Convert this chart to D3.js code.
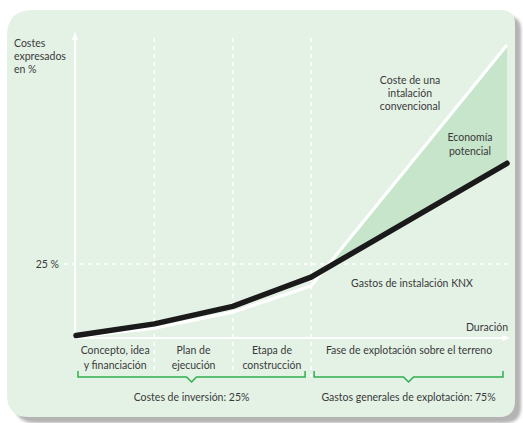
<!DOCTYPE html>
<html>
<head>
<meta charset="utf-8">
<script src="https://cdn.jsdelivr.net/npm/d3@7"></script>
<style>
  html, body { margin: 0; padding: 0; background: #ffffff; }
  svg { display: block; }
  text { font-family: Lato, "Open Sans", sans-serif; fill: #3a3a3a; }
</style>
</head>
<body>
<svg id="chart" width="523" height="423"></svg>
<script>
// Phase boundaries along the time axis (in phase units) and the cost at each boundary (%)
const phaseBounds      = [0, 1, 2, 3, 5.5];
const knxCost          = [0.5, 4.5, 10.5, 20.5, 59.5];
const conventionalCost = [0, 3, 8.5, 17.5, 100];

const yTicks = [25];
const phaseLabels = [
  { lines: ["Concepto, idea", "y financiación"], from: 0, to: 1 },
  { lines: ["Plan de", "ejecución"], from: 1, to: 2 },
  { lines: ["Etapa de", "construcción"], from: 2, to: 3 },
  { lines: ["Fase de explotación sobre el terreno"], from: 3, to: 5.5 }
];
const costGroups = [
  { label: "Costes de inversión: 25%", from: 0, to: 3 },
  { label: "Gastos generales de explotación: 75%", from: 3, to: 5.5 }
];

const svg = d3.select("#chart");

const x = d3.scaleLinear().domain([0, 5.5]).range([76, 507]);
const y = d3.scaleLinear().domain([0, 100]).range([337, 45]);

const bg = "#e4f2e6";
const savingFill = "#c6e5cb";
const green = "#2fae4e";

// Panel with its drop shadow; corners of different radii
function panelPath(x0, y0, x1, y1, rtl, rtr, rbr, rbl) {
  return `M${x0 + rtl},${y0} L${x1 - rtr},${y0} Q${x1},${y0} ${x1},${y0 + rtr}
          L${x1},${y1 - rbr} Q${x1},${y1} ${x1 - rbr},${y1}
          L${x0 + rbl},${y1} Q${x0},${y1} ${x0},${y1 - rbl}
          L${x0},${y0 + rtl} Q${x0},${y0} ${x0 + rtl},${y0} Z`;
}
const defs = svg.append("defs");
defs.append("filter").attr("id", "soft").attr("x", "-5%").attr("y", "-5%").attr("width", "110%").attr("height", "110%")
  .append("feGaussianBlur").attr("stdDeviation", 1.5);

svg.append("path")
  .attr("d", panelPath(14, 16, 521, 423, 26, 14, 16, 22))
  .attr("fill", "#b4b4b4")
  .attr("filter", "url(#soft)");
svg.append("path")
  .attr("d", panelPath(7, 10, 515, 417, 26, 14, 16, 22))
  .attr("fill", bg);

// Dashed guides: phase boundaries and the 25 % level
const guides = svg.append("g").attr("stroke", "#ffffff").attr("stroke-width", 1.4).attr("stroke-dasharray", "4,4");
[1, 2, 3].forEach(p => {
  guides.append("line")
    .attr("x1", x(p)).attr("x2", x(p))
    .attr("y1", 38).attr("y2", p === 3 ? 377 : 372);
});
yTicks.forEach(t => {
  guides.append("line")
    .attr("x1", 64).attr("x2", 508)
    .attr("y1", y(t)).attr("y2", y(t));
});

// Axes with arrow heads
const axisColor = "#ffffff";
svg.append("line").attr("x1", 75).attr("x2", 75).attr("y1", 338).attr("y2", 38)
  .attr("stroke", axisColor).attr("stroke-width", 1.8);
svg.append("path").attr("d", "M75,32 L72,40 L78,40 Z").attr("fill", axisColor);
svg.append("line").attr("x1", 75).attr("x2", 503).attr("y1", 338).attr("y2", 338)
  .attr("stroke", axisColor).attr("stroke-width", 1.8);
svg.append("path").attr("d", "M510,338 L502,335 L502,341 Z").attr("fill", axisColor);

// Potential saving: area where the conventional cost exceeds the KNX cost
const n = phaseBounds.length;
const i0 = n - 2;
const dA = conventionalCost[i0] - knxCost[i0];
const dB = conventionalCost[i0 + 1] - knxCost[i0 + 1];
const tCross = dA / (dA - dB);
const xCross = phaseBounds[i0] + tCross * (phaseBounds[i0 + 1] - phaseBounds[i0]);
const yCross = knxCost[i0] + tCross * (knxCost[i0 + 1] - knxCost[i0]);
const savingPts = [
  { t: xCross, lo: yCross, hi: yCross },
  { t: phaseBounds[n - 1], lo: knxCost[n - 1], hi: conventionalCost[n - 1] }
];
svg.append("path")
  .datum(savingPts)
  .attr("d", d3.area().x(d => x(d.t)).y0(d => y(d.lo)).y1(d => y(d.hi)))
  .attr("fill", savingFill);

// Cost curves
const line = d3.line().x(d => x(d[0])).y(d => y(d[1]));
svg.append("path")
  .datum(phaseBounds.map((p, i) => [p, conventionalCost[i]]))
  .attr("d", line)
  .attr("fill", "none").attr("stroke", "#ffffff").attr("stroke-width", 3.2)
  .attr("stroke-linejoin", "miter");
svg.append("path")
  .datum(phaseBounds.map((p, i) => [p, knxCost[i]]))
  .attr("d", line)
  .attr("fill", "none").attr("stroke", "#1a1a1a").attr("stroke-width", 5.5)
  .attr("stroke-linecap", "round").attr("stroke-linejoin", "round");

// Text helpers
const fs = 10.5;
function multiline(lines, cx, baseline, lh, anchor) {
  const t = svg.append("text").attr("text-anchor", anchor || "middle").attr("font-size", fs);
  lines.forEach((s, i) => t.append("tspan").attr("x", cx).attr("y", baseline + i * lh).text(s));
  return t;
}

// Axis titles and tick label
multiline(["Costes", "expresados", "en %"], 14, 47, 12.8, "start");
yTicks.forEach(t => {
  svg.append("text").attr("x", 59).attr("y", y(t) + 3.5).attr("text-anchor", "end")
    .attr("font-size", fs).text(t + " %");
});
svg.append("text").attr("x", 508).attr("y", 331).attr("text-anchor", "end")
  .attr("font-size", fs).text("Duración");

// Curve annotations
multiline(["Coste de una", "intalación", "convencional"], 410, 84, 13);
multiline(["Economía", "potencial"], 470, 141, 14);
multiline(["Gastos de instalación KNX"], 412, 287, 13);

// Phase names under the time axis
phaseLabels.forEach(p => {
  const cx = (x(p.from) + x(p.to)) / 2;
  multiline(p.lines, p.lines.length > 1 ? cx : cx, 354, 14.5);
});

// Brackets grouping the phases
costGroups.forEach((g, i) => {
  const xa = x(g.from) + (i === 0 ? 2 : 3);
  const xb = x(g.to) - (i === 0 ? 6 : 4);
  const cx = (xa + xb) / 2;
  const yb = 377;
  svg.append("path")
    .attr("d", `M${xa},${yb - 6} L${xa},${yb} L${cx - 5},${yb} L${cx},${yb + 5} L${cx + 5},${yb} L${xb},${yb} L${xb},${yb - 6}`)
    .attr("fill", "none").attr("stroke", green).attr("stroke-width", 1.5);
  svg.append("text").attr("x", cx).attr("y", 401).attr("text-anchor", "middle")
    .attr("font-size", fs).text(g.label);
});
</script>
</body>
</html>
